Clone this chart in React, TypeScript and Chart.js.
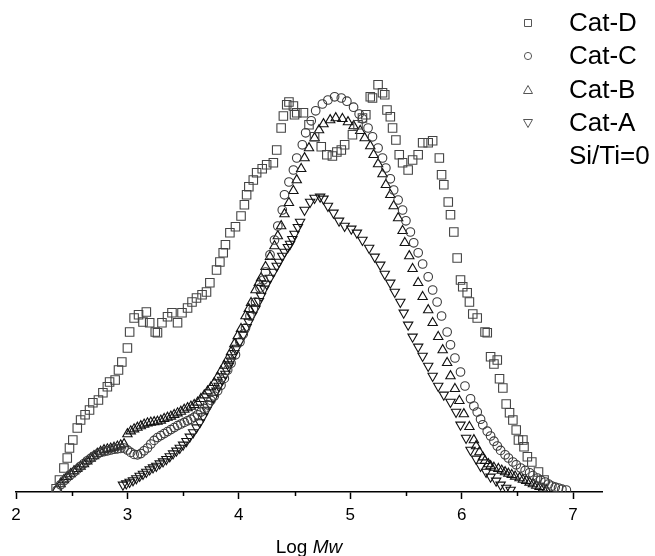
import React, { useEffect, useRef } from 'react';
import { Chart, registerables } from 'chart.js';

Chart.register(...registerables);

// ---- data (x = Log Mw, y = relative weight fraction) ----
const catD: [number, number][] = [
  [2.36,0.008],[2.39,0.030],[2.43,0.060],[2.46,0.085],[2.48,0.110],[2.51,0.130],[2.55,0.160],[2.58,0.180],
  [2.62,0.193],[2.66,0.205],[2.69,0.223],[2.74,0.230],[2.78,0.248],[2.82,0.263],[2.84,0.275],[2.89,0.280],
  [2.92,0.305],[2.95,0.325],[3.00,0.360],[3.02,0.400],[3.06,0.435],[3.10,0.443],[3.14,0.425],[3.17,0.450],
  [3.20,0.423],[3.25,0.400],[3.27,0.398],[3.31,0.423],[3.36,0.438],[3.40,0.448],[3.45,0.423],[3.49,0.448],
  [3.54,0.460],[3.58,0.475],[3.62,0.485],[3.67,0.493],[3.71,0.500],[3.74,0.523],[3.80,0.555],[3.83,0.575],
  [3.86,0.598],[3.88,0.618],[3.92,0.648],[3.97,0.663],[4.02,0.690],[4.05,0.718],[4.07,0.743],[4.09,0.763],
  [4.13,0.780],[4.16,0.798],[4.21,0.808],[4.25,0.818],[4.31,0.823],[4.34,0.855],[4.38,0.910],[4.40,0.940],
  [4.43,0.968],[4.45,0.975],[4.49,0.965],[4.50,0.943],[4.52,0.948],[4.58,0.948],[4.63,0.918],[4.68,0.888],
  [4.74,0.863],[4.79,0.843],[4.84,0.840],[4.88,0.850],[4.92,0.855],[4.95,0.868],[5.02,0.893],[5.07,0.918],
  [5.11,0.935],[5.14,0.943],[5.18,0.988],[5.20,0.985],[5.25,1.018],[5.29,0.998],[5.31,0.993],[5.33,0.955],
  [5.36,0.938],[5.38,0.910],[5.41,0.880],[5.44,0.843],[5.47,0.823],[5.52,0.805],[5.56,0.830],[5.61,0.843],
  [5.65,0.873],[5.70,0.873],[5.74,0.878],[5.80,0.835],[5.82,0.793],[5.84,0.768],[5.88,0.725],[5.90,0.693],
  [5.93,0.650],[5.96,0.585],[5.99,0.530],[6.01,0.513],[6.05,0.498],[6.07,0.475],[6.10,0.445],[6.14,0.435],
  [6.21,0.400],[6.23,0.398],[6.26,0.338],[6.29,0.320],[6.32,0.330],[6.34,0.283],[6.37,0.260],[6.40,0.220],
  [6.43,0.198],[6.46,0.180],[6.49,0.155],[6.51,0.130],[6.55,0.130],[6.56,0.113],[6.59,0.088],[6.63,0.075],
  [6.69,0.050],[6.74,0.030]
];

const catC: [number, number][] = [
  [2.37,0.005],[2.40,0.018],[2.43,0.028],[2.46,0.036],[2.49,0.043],[2.52,0.050],[2.55,0.057],[2.58,0.064],
  [2.61,0.071],[2.64,0.078],[2.67,0.084],[2.70,0.090],[2.73,0.095],[2.76,0.099],[2.79,0.101],[2.82,0.103],
  [2.85,0.105],[2.88,0.107],[2.91,0.108],[2.94,0.109],[2.97,0.110],[3.00,0.105],[3.03,0.099],[3.06,0.094],
  [3.09,0.093],[3.12,0.096],[3.15,0.103],[3.18,0.110],[3.21,0.120],[3.24,0.129],[3.27,0.136],[3.30,0.141],
  [3.33,0.146],[3.36,0.151],[3.39,0.156],[3.42,0.161],[3.45,0.166],[3.48,0.170],[3.51,0.174],[3.54,0.178],
  [3.57,0.182],[3.60,0.187],[3.63,0.193],[3.66,0.200],[3.69,0.209],[3.72,0.218],[3.75,0.229],[3.78,0.240],
  [3.81,0.253],[3.84,0.267],[3.87,0.284],[3.90,0.305],[3.93,0.322],[3.97,0.343],[4.01,0.375],[4.04,0.395],
  [4.06,0.410],[4.10,0.440],[4.13,0.458],[4.15,0.475],[4.19,0.510],[4.22,0.530],[4.24,0.550],[4.28,0.593],
  [4.32,0.630],[4.35,0.665],[4.39,0.705],[4.41,0.743],[4.45,0.775],[4.49,0.805],[4.52,0.835],[4.57,0.868],
  [4.60,0.898],[4.65,0.928],[4.69,0.953],[4.75,0.970],[4.80,0.980],[4.86,0.988],[4.92,0.985],[4.97,0.977],
  [5.03,0.962],[5.08,0.945],[5.11,0.933],[5.16,0.910],[5.20,0.888],[5.25,0.860],[5.29,0.835],[5.32,0.810],
  [5.36,0.783],[5.39,0.755],[5.43,0.730],[5.47,0.705],[5.50,0.678],[5.54,0.650],[5.57,0.623],[5.61,0.598],
  [5.65,0.570],[5.70,0.538],[5.74,0.505],[5.78,0.475],[5.82,0.440],[5.87,0.400],[5.90,0.368],[5.94,0.335],
  [5.99,0.300],[6.03,0.265],[6.08,0.233],[6.11,0.215],[6.14,0.200],[6.17,0.182],[6.19,0.168],[6.23,0.152],
  [6.26,0.140],[6.29,0.127],[6.32,0.115],[6.35,0.104],[6.39,0.093],[6.42,0.085],[6.46,0.075],[6.49,0.068],
  [6.53,0.060],[6.57,0.054],[6.61,0.048],[6.64,0.041],[6.68,0.035],[6.71,0.030],[6.75,0.025],[6.78,0.020],
  [6.81,0.015],[6.84,0.012],[6.87,0.010],[6.90,0.007],[6.94,0.005]
];

const catB: [number, number][] = [
  [2.37,0.008],[2.40,0.020],[2.43,0.030],[2.46,0.038],[2.49,0.045],[2.52,0.052],[2.55,0.058],[2.58,0.064],
  [2.61,0.070],[2.64,0.077],[2.67,0.084],[2.70,0.090],[2.73,0.096],[2.76,0.101],[2.79,0.105],[2.82,0.107],
  [2.85,0.109],[2.88,0.111],[2.91,0.114],[2.94,0.117],[2.97,0.120],[3.00,0.145],[3.03,0.152],[3.06,0.157],
  [3.09,0.161],[3.12,0.165],[3.15,0.169],[3.18,0.172],[3.21,0.174],[3.24,0.175],[3.27,0.176],[3.30,0.179],
  [3.33,0.183],[3.36,0.186],[3.39,0.189],[3.42,0.193],[3.45,0.197],[3.48,0.201],[3.51,0.206],[3.54,0.210],
  [3.57,0.214],[3.60,0.218],[3.63,0.224],[3.66,0.233],[3.69,0.242],[3.72,0.252],[3.75,0.262],[3.78,0.273],
  [3.81,0.287],[3.84,0.302],[3.87,0.316],[3.90,0.332],[3.93,0.350],[3.96,0.370],[3.99,0.390],[4.02,0.408],
  [4.06,0.440],[4.09,0.458],[4.11,0.473],[4.15,0.505],[4.18,0.523],[4.20,0.535],[4.24,0.563],[4.28,0.588],
  [4.32,0.615],[4.35,0.640],[4.38,0.665],[4.41,0.695],[4.45,0.723],[4.49,0.753],[4.52,0.780],[4.56,0.808],
  [4.59,0.835],[4.63,0.860],[4.68,0.885],[4.72,0.905],[4.76,0.920],[4.82,0.930],[4.87,0.935],[4.93,0.933],
  [4.98,0.925],[5.03,0.915],[5.09,0.903],[5.13,0.885],[5.18,0.865],[5.21,0.843],[5.25,0.820],[5.29,0.795],
  [5.32,0.768],[5.36,0.743],[5.39,0.715],[5.43,0.685],[5.47,0.653],[5.49,0.623],[5.53,0.590],[5.56,0.558],
  [5.61,0.523],[5.65,0.488],[5.70,0.455],[5.74,0.423],[5.79,0.388],[5.83,0.355],[5.87,0.323],[5.90,0.290],
  [5.94,0.258],[5.98,0.228],[6.02,0.195],[6.07,0.163],[6.11,0.130],[6.13,0.115],[6.16,0.100],[6.19,0.087],
  [6.21,0.078],[6.24,0.070],[6.26,0.065],[6.29,0.061],[6.33,0.058],[6.36,0.054],[6.39,0.050],[6.42,0.046],
  [6.45,0.043],[6.48,0.039],[6.52,0.035],[6.55,0.031],[6.58,0.028],[6.61,0.024],[6.64,0.020],[6.67,0.016],
  [6.70,0.013],[6.73,0.009],[6.76,0.005]
];

const catA: [number, number][] = [
  [2.96,0.018],[2.99,0.021],[3.02,0.025],[3.05,0.029],[3.08,0.034],[3.11,0.040],[3.14,0.045],[3.17,0.050],
  [3.20,0.056],[3.23,0.061],[3.26,0.065],[3.29,0.071],[3.32,0.076],[3.35,0.082],[3.38,0.089],[3.41,0.096],
  [3.44,0.103],[3.47,0.110],[3.50,0.118],[3.53,0.127],[3.56,0.138],[3.59,0.149],[3.62,0.161],[3.65,0.174],
  [3.68,0.189],[3.71,0.205],[3.74,0.220],[3.77,0.235],[3.80,0.253],[3.82,0.265],[3.85,0.280],[3.88,0.295],
  [3.91,0.315],[3.93,0.328],[3.96,0.347],[3.98,0.360],[4.01,0.377],[4.04,0.393],[4.07,0.412],[4.09,0.425],
  [4.12,0.442],[4.15,0.458],[4.18,0.477],[4.20,0.490],[4.23,0.508],[4.25,0.520],[4.28,0.535],[4.31,0.550],
  [4.34,0.565],[4.36,0.575],[4.39,0.590],[4.41,0.600],[4.44,0.612],[4.46,0.620],[4.48,0.632],[4.50,0.645],
  [4.53,0.662],[4.55,0.675],[4.59,0.705],[4.64,0.725],[4.68,0.735],[4.73,0.738],[4.76,0.733],[4.80,0.715],
  [4.85,0.698],[4.90,0.678],[4.95,0.665],[5.01,0.658],[5.06,0.648],[5.11,0.630],[5.17,0.610],[5.22,0.588],
  [5.27,0.568],[5.31,0.545],[5.36,0.523],[5.40,0.500],[5.45,0.475],[5.48,0.448],[5.52,0.418],[5.56,0.388],
  [5.61,0.363],[5.65,0.340],[5.70,0.315],[5.74,0.290],[5.79,0.265],[5.84,0.243],[5.90,0.225],[5.95,0.200],
  [5.99,0.168],[6.04,0.135],[6.08,0.105],[6.13,0.083],[6.17,0.065],[6.22,0.050],[6.26,0.038],[6.31,0.028],
  [6.35,0.018],[6.40,0.010],[6.44,0.005]
];

const xTickValues = [2, 3, 4, 5, 6, 7];
const minorTickValues = [2.5, 3.5, 4.5, 5.5, 6.5];
const legendLabels = ['Cat-D', 'Cat-C', 'Cat-B', 'Cat-A', 'Si/Ti=0'];
const legendMarkers = ['rect', 'circle', 'triangle', 'triangleDown', 'none'];
const axisTitleParts = ['Log ', 'Mw'];

const FONT = "'Liberation Sans', Arial, Helvetica, sans-serif";

function toPoints(arr: [number, number][]) {
  return arr.map(([x, y]) => ({ x, y }));
}

const decorPlugin = {
  id: 'decor',
  afterDraw(chart: any) {
    const ctx = chart.ctx as CanvasRenderingContext2D;
    const xs = chart.scales.x;
    const axisY = chart.chartArea.bottom;
    ctx.save();
    // minor ticks
    ctx.strokeStyle = '#000';
    ctx.lineWidth = 1.5;
    for (const v of minorTickValues) {
      const px = Math.round(xs.getPixelForValue(v)) + 0.5;
      ctx.beginPath();
      ctx.moveTo(px, axisY);
      ctx.lineTo(px, axisY + 4);
      ctx.stroke();
    }
    // axis title with italic part
    const cx = (xs.left + xs.right) / 2;
    const ty = 548;
    ctx.fillStyle = '#000';
    ctx.textBaseline = 'middle';
    ctx.textAlign = 'left';
    ctx.font = `19px ${FONT}`;
    const w1 = ctx.measureText(axisTitleParts[0]).width;
    ctx.font = `italic 19px ${FONT}`;
    const w2 = ctx.measureText(axisTitleParts[1]).width;
    const sx = cx - (w1 + w2) / 2;
    ctx.font = `19px ${FONT}`;
    ctx.fillText(axisTitleParts[0], sx, ty);
    ctx.font = `italic 19px ${FONT}`;
    ctx.fillText(axisTitleParts[1], sx + w1, ty);

    // legend
    const rows = [23, 56, 90, 123, 156];
    const mx = 528;
    const tx = 569;
    ctx.font = `26px ${FONT}`;
    legendLabels.forEach((label, i) => {
      const y = rows[i];
      const m = legendMarkers[i];
      ctx.strokeStyle = '#555';
      ctx.lineWidth = 1;
      ctx.beginPath();
      if (m === 'rect') {
        ctx.rect(mx - 3.5, y - 3.5, 7, 7);
      } else if (m === 'circle') {
        ctx.arc(mx, y, 3.6, 0, Math.PI * 2);
      } else if (m === 'triangle') {
        ctx.moveTo(mx, y - 4.5);
        ctx.lineTo(mx + 4.5, y + 3.5);
        ctx.lineTo(mx - 4.5, y + 3.5);
        ctx.closePath();
      } else if (m === 'triangleDown') {
        ctx.moveTo(mx, y + 4.5);
        ctx.lineTo(mx + 4.5, y - 3.5);
        ctx.lineTo(mx - 4.5, y - 3.5);
        ctx.closePath();
      }
      if (m !== 'none') ctx.stroke();
      ctx.fillStyle = '#000';
      ctx.textBaseline = 'middle';
      ctx.fillText(label, tx, y + 1);
    });
    ctx.restore();
  },
};

export default function App() {
  const ref = useRef<HTMLCanvasElement | null>(null);
  useEffect(() => {
    if (!ref.current) return;
    const common = {
      showLine: false,
      pointBackgroundColor: 'rgba(0,0,0,0)',
      clip: { left: 10, right: 10, top: 10, bottom: 0 },
    };
    const chart = new Chart(ref.current, {
      type: 'scatter',
      data: {
        datasets: [
          { ...common, label: legendLabels[0], data: toPoints(catD), pointStyle: 'rect', pointRadius: 6, pointBorderWidth: 1.1, pointBorderColor: '#444' },
          { ...common, label: legendLabels[1], data: toPoints(catC), pointStyle: 'circle', pointRadius: 4.3, pointBorderWidth: 1.1, pointBorderColor: '#3a3a3a' },
          { ...common, label: legendLabels[2], data: toPoints(catB), pointStyle: 'triangle', pointRadius: 5.4, pointBorderWidth: 1.1, pointBorderColor: '#111' },
          { ...common, label: legendLabels[3], data: toPoints(catA), pointStyle: 'triangle', pointRotation: 180, pointRadius: 5.4, pointBorderWidth: 1.1, pointBorderColor: '#111' },
        ],
      },
      options: {
        responsive: false,
        animation: false,
        events: [],
        layout: { padding: { left: 16, right: 53, top: 12, bottom: 0 } },
        plugins: { legend: { display: false }, tooltip: { enabled: false } },
        scales: {
          x: {
            type: 'linear',
            min: 2,
            max: 7.26,
            position: 'bottom',
            border: { display: true, color: '#000', width: 1.5 },
            grid: { display: true, drawOnChartArea: false, drawTicks: true, tickLength: 7, tickColor: '#000', tickWidth: 1.5 },
            ticks: {
              stepSize: 1,
              includeBounds: false,
              autoSkip: false,
              maxRotation: 0,
              color: '#000',
              padding: 6,
              font: { family: FONT, size: 17 },
              callback: (v: any) => (xTickValues.includes(Number(v)) ? String(v) : ''),
            },
            afterFit: (s: any) => { s.height = 64; },
          },
          y: { display: false, min: 0, max: 1.2 },
        },
      },
      plugins: [decorPlugin],
    } as any);
    return () => chart.destroy();
  }, []);
  return (
    <div style={{ position: 'absolute', left: 0, top: 0, width: 655, height: 556, background: '#fff' }}>
      <canvas ref={ref} width={655} height={556} style={{ display: 'block' }} />
    </div>
  );
}
